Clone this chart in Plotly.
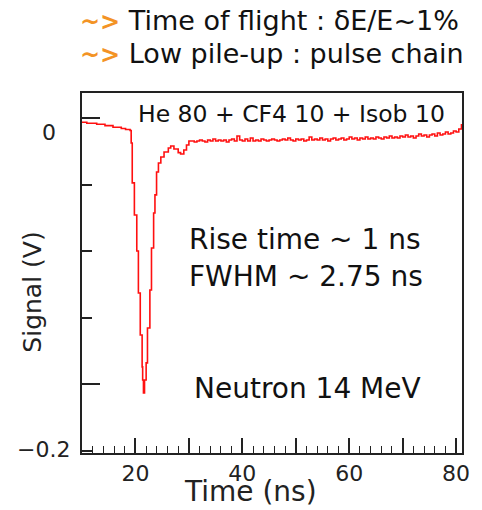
import plotly.graph_objects as go

# ---- data ----
pulse_t = [10.0, 10.9, 12.75, 14.3, 15.8, 17.35, 18.15, 19.0, 19.2, 19.4, 19.8, 20.25, 20.55,
           20.9, 21.25, 21.35, 21.5, 21.7, 22.0, 22.25, 22.7, 23.0, 23.4, 23.65, 23.95, 24.3,
           24.75, 25.35, 26.15, 26.6, 27.2, 28.0, 28.45, 29.05, 29.55, 30.0]
pulse_v = [-0.0026, -0.0032, -0.0038, -0.0046, -0.0056, -0.0063, -0.0069, -0.0075, -0.0150,
           -0.0390, -0.0583, -0.0799, -0.1051, -0.1303, -0.1495, -0.1574, -0.1652, -0.1574,
           -0.1471, -0.1261, -0.1033, -0.0781, -0.0571, -0.0462, -0.0324, -0.0270, -0.0234,
           -0.0204, -0.0180, -0.0168, -0.0186, -0.0208, -0.0216, -0.0192, -0.0162, -0.0138]

tail_t = [30.5, 31.0, 31.5, 32.0, 32.5, 33.0, 33.5, 34.0, 34.5, 35.0,
          35.5, 36.0, 36.5, 37.0, 37.5, 38.0, 38.5, 39.0, 39.5, 40.0,
          40.5, 41.0, 41.5, 42.0, 42.5, 43.0, 43.5, 44.0, 44.5, 45.0,
          45.5, 46.0, 46.5, 47.0, 47.5, 48.0, 48.5, 49.0, 49.5, 50.0,
          50.5, 51.0, 51.5, 52.0, 52.5, 53.0, 53.5, 54.0, 54.5, 55.0,
          55.5, 56.0, 56.5, 57.0, 57.5, 58.0, 58.5, 59.0, 59.5, 60.0,
          60.5, 61.0, 61.5, 62.0, 62.5, 63.0, 63.5, 64.0, 64.5, 65.0,
          65.5, 66.0, 66.5, 67.0, 67.5, 68.0, 68.5, 69.0, 69.5, 70.0,
          70.5, 71.0, 71.5, 72.0, 72.5, 73.0, 73.5, 74.0, 74.5, 75.0,
          75.5, 76.0, 76.5, 77.0, 77.5, 78.0, 78.5, 79.0, 79.5, 80.0,
          80.5, 81.0]
tail_v = [-0.0138, -0.0144, -0.0138, -0.0132, -0.0138, -0.0144, -0.0132, -0.0138, -0.0126, -0.0138,
          -0.0132, -0.0138, -0.0132, -0.0144, -0.0132, -0.0126, -0.0138, -0.0108, -0.0132, -0.0138,
          -0.0126, -0.0138, -0.0120, -0.0138, -0.0132, -0.0138, -0.0126, -0.0132, -0.0138, -0.0132,
          -0.0126, -0.0132, -0.0138, -0.0132, -0.0126, -0.0132, -0.0120, -0.0132, -0.0138, -0.0126,
          -0.0132, -0.0126, -0.0138, -0.0132, -0.0114, -0.0132, -0.0126, -0.0132, -0.0120, -0.0132,
          -0.0126, -0.0138, -0.0126, -0.0120, -0.0132, -0.0126, -0.0120, -0.0132, -0.0126, -0.0114,
          -0.0126, -0.0120, -0.0132, -0.0120, -0.0126, -0.0114, -0.0126, -0.0120, -0.0126, -0.0114,
          -0.0120, -0.0126, -0.0114, -0.0120, -0.0108, -0.0120, -0.0114, -0.0120, -0.0108, -0.0114,
          -0.0102, -0.0114, -0.0108, -0.0120, -0.0108, -0.0096, -0.0108, -0.0102, -0.0114, -0.0102,
          -0.0096, -0.0108, -0.0090, -0.0102, -0.0096, -0.0084, -0.0096, -0.0090, -0.0078, -0.0084,
          -0.0066, -0.0036]

x_major = [10, 20, 30, 40, 50, 60, 70, 80]
x_labels = ["", "20", "", "40", "", "60", "", "80"]
y_major = [0, -0.16]
y_minor = [-0.04, -0.08, -0.12, -0.2]
y_labels = {0: "0", -0.2: "\u22120.2"}

title_lines = ["Time of flight : \u03b4E/E~1%", "Low pile-up : pulse chain"]
gas_text = "He 80 + CF4 10 + Isob 10"
info_lines = ["Rise time ~ 1 ns", "FWHM ~ 2.75 ns"]
source_text = "Neutron 14 MeV"

FONT = "DejaVu Sans"
INK = "#111111"
ORANGE = "#f39325"

fig = go.Figure()
fig.add_trace(go.Scatter(x=pulse_t + tail_t, y=pulse_v + tail_v, mode="lines",
                         line=dict(color="#ff1010", width=1.6, shape="hv"),
                         hoverinfo="skip", showlegend=False))

# page body has an 8px margin, so the figure is drawn 8px smaller and the
# plot area (reference pixels: left 82, right 467, top 93, bottom 453) is placed accordingly
OFF = 8
W, H = 482 - OFF, 510 - OFF
PL, PR, PT, PB = 82, 467, 93, 453
L, T = PL - OFF, PT - OFF
R, B = W - (PR - OFF), H - (PB - OFF)
pw, ph = PR - PL, PB - PT

def px(x):
    return (x - PL) / pw

def py(y):
    return (PB - y) / ph

fig.update_layout(
    width=W, height=H,
    margin=dict(l=L, r=R, t=T, b=B),
    paper_bgcolor="white", plot_bgcolor="white",
    font=dict(family=FONT, color=INK),
    showlegend=False,
)
fig.update_xaxes(
    range=[10, 81.1], showgrid=False, zeroline=False,
    showline=True, linecolor="#222222", linewidth=2, mirror=True,
    ticks="inside", tickmode="array", tickvals=x_major, ticktext=x_labels,
    ticklen=15, tickwidth=1.5, tickcolor="#222222",
    minor=dict(ticks="inside", dtick=2, tick0=0, ticklen=7, tickwidth=1.2, tickcolor="#222222", showgrid=False),
    tickfont=dict(family=FONT, size=22, color="#222222"),
)
fig.update_yaxes(
    range=[-0.2012, 0.0150], showgrid=False, zeroline=False,
    showline=True, linecolor="#222222", linewidth=2, mirror=True,
    ticks="inside", tickmode="array", tickvals=y_major, showticklabels=False,
    ticklen=18, tickwidth=1.5, tickcolor="#222222",
    minor=dict(ticks="inside", tickmode="array", tickvals=y_minor, ticklen=10, tickwidth=1.5,
               tickcolor="#222222", showgrid=False),
)

ann = []
# y tick labels (offset as in the reference)
ann.append(dict(xref="paper", yref="y", x=px(58), y=0, yshift=-15, xanchor="right", yanchor="middle",
                text=y_labels[0], showarrow=False, font=dict(size=22, color="#222222")))
ann.append(dict(xref="paper", yref="y", x=px(72), y=-0.2, yshift=2, xanchor="right", yanchor="middle",
                text=y_labels[-0.2], showarrow=False, font=dict(size=22, color="#222222")))
# axis titles
ann.append(dict(xref="paper", yref="paper", x=px(31), y=py(292), xanchor="center", yanchor="middle",
                text="Signal (V)", textangle=-90, showarrow=False, font=dict(size=25, color="#222222")))
ann.append(dict(xref="paper", yref="paper", x=px(253), y=py(491), xanchor="center", yanchor="middle",
                text="Time (ns)", showarrow=False, font=dict(size=28, color="#222222")))
# header lines
for line, yc in zip(title_lines, [20, 54]):
    ann.append(dict(xref="paper", yref="paper", x=px(78), y=py(yc), xanchor="left", yanchor="middle",
                    text=f"<b><span style='color:{ORANGE};font-size:24px'>~></span></b> {line}",
                    showarrow=False, font=dict(size=27, color=INK)))
# in-plot labels
ann.append(dict(xref="paper", yref="paper", x=px(137), y=py(114), xanchor="left", yanchor="middle",
                text=gas_text, showarrow=False, font=dict(size=23.5, color=INK)))
for line, yc in zip(info_lines, [239, 276]):
    ann.append(dict(xref="paper", yref="paper", x=px(188), y=py(yc), xanchor="left", yanchor="middle",
                    text=line, showarrow=False, font=dict(size=28, color=INK)))
ann.append(dict(xref="paper", yref="paper", x=px(193), y=py(388), xanchor="left", yanchor="middle",
                text=source_text, showarrow=False, font=dict(size=28, color=INK)))
fig.update_layout(annotations=ann)

fig.write_html("out.html")
